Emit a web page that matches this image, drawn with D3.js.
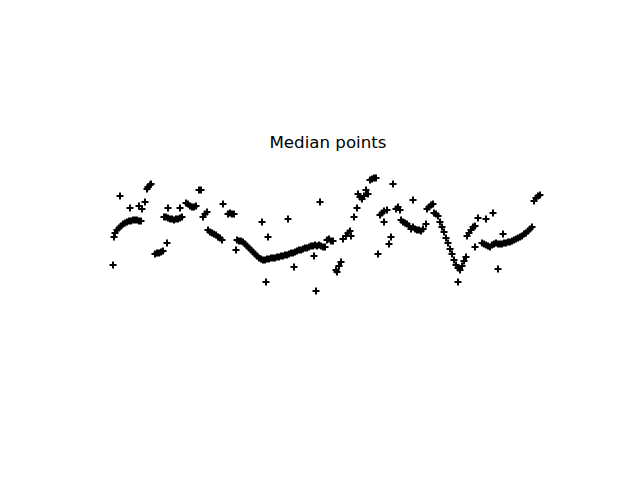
<!DOCTYPE html>
<html>
<head>
<meta charset="utf-8">
<script src="https://cdn.jsdelivr.net/npm/d3@7"></script>
<style>
  body { margin: 0; background: #fff; }
</style>
</head>
<body>
<div id="chart"></div>
<script>
// median points (x, y pairs)
const titleText = "Median points";

const xs = [
  13,
  14, 15, 17, 19, 21, 23, 25, 27, 29, 31, 33, 35, 37, 39, 41,
  20, 30, 39, 42, 45,
  47, 48, 50, 51,
  55, 57, 59, 61, 63, 67,
  64, 66, 68, 70, 72, 74, 76, 78, 80, 82,
  68, 80,
  86, 88, 90, 92, 94, 96,
  99, 101,
  103, 105, 107,
  108, 110, 112, 114, 116, 118, 120, 122,
  123,
  128, 130, 132, 134,
  136,
  137, 139, 141, 143, 145, 147, 149, 151, 153, 155, 157, 159, 161, 163, 165,
  162, 168, 166, 188,
  167, 169, 171, 173, 175, 177, 179, 181, 183, 185, 187, 189, 191, 193, 195, 197, 199, 201, 203, 205, 207, 209, 211, 213, 215,
  194, 214, 216, 220,
  217, 219, 221, 223,
  225, 227, 229, 231, 233,
  236, 237, 239, 241,
  243, 246, 248, 250, 251,
  254, 257,
  258, 260, 262, 264, 266, 268,
  270, 272, 274, 276,
  293,
  280, 282, 284, 287, 284,
  291, 289, 278, 296,
  298, 300,
  313,
  301, 303, 305, 307, 309, 311, 313, 315, 317, 319, 321, 323, 326,
  327, 329, 331, 333,
  334, 336, 338,
  340, 342, 344, 346, 348, 350, 352, 354, 356, 358, 360, 362,
  364, 366, 358,
  367, 369, 371, 373, 375,
  378, 386, 393, 375,
  382, 384, 386, 388, 390, 392,
  394, 396, 398, 400, 402, 404, 406, 408, 410, 412, 414, 416, 418,
  403, 398,
  420, 422, 424, 426, 428, 430, 432,
  434, 436, 438, 440
];

const ys = [
  35,
  63, 67, 70, 72, 74, 76, 77, 78, 79, 79, 80, 80, 80, 79, 79,
  104, 92, 94, 91, 98,
  111, 113, 115, 116,
  46, 47, 47, 48, 49, 57,
  83, 83, 82, 81, 81, 80, 81, 81, 82, 83,
  92, 92,
  97, 96, 94, 93, 93, 94,
  110, 110,
  83, 86, 88,
  70, 68, 67, 66, 65, 63, 62, 60,
  96,
  86, 87, 86, 86,
  50,
  60, 59, 59, 58, 56, 54, 52, 50, 48, 46, 44, 42, 41, 40, 40,
  78, 63, 18, 81,
  41, 41, 42, 42, 42, 43, 43, 44, 44, 45, 45, 46, 47, 47, 48, 49, 50, 50, 51, 52, 52, 53, 54, 54, 55,
  33, 44, 9, 98,
  54, 55, 54, 53,
  53, 60, 61, 59, 59,
  30, 28, 34, 38,
  61, 64, 67, 69, 64,
  83, 92,
  106, 103, 101, 104, 110, 106,
  120, 121, 122, 122,
  116,
  85, 87, 89, 90, 78,
  63, 56, 46, 91,
  93, 90,
  100,
  80, 78, 77, 76, 74, 71, 73, 71, 70, 70, 69, 71, 76,
  91, 93, 95, 96,
  87, 86, 84,
  78, 73, 68, 62, 57, 51, 46, 40, 35, 32, 30, 34,
  39, 43, 18,
  64, 67, 70, 73, 74,
  82, 81, 87, 53,
  57, 56, 55, 54, 53, 55,
  56, 57, 56, 56, 56, 57, 57, 58, 58, 59, 60, 61, 62,
  66, 31,
  63, 64, 66, 67, 69, 71, 73,
  99, 102, 104, 105
];

const width = 640, height = 480;
const margin = { top: 157, right: 64, bottom: 152, left: 80 };

const svg = d3.select("#chart")
  .append("svg")
  .attr("width", width)
  .attr("height", height);

const x = d3.scaleLinear()
  .domain([-20, 476])
  .range([margin.left, width - margin.right]);

const y = d3.scaleLinear()
  .domain([-28, 143])
  .range([height - margin.bottom, margin.top]);

// "+" marker, axis is switched off
const arm = 3.5;
const plus = `M${-arm},0H${arm}M0,${-arm}V${arm}`;

svg.append("g")
  .selectAll("path")
  .data(xs.map((d, i) => [d, ys[i]]))
  .join("path")
  .attr("transform", d => `translate(${x(d[0])},${y(d[1])})`)
  .attr("d", plus)
  .attr("fill", "none")
  .attr("stroke", "#000")
  .attr("stroke-width", 2);

svg.append("text")
  .attr("x", (margin.left + width - margin.right) / 2)
  .attr("y", margin.top - 9)
  .attr("text-anchor", "middle")
  .style("font-family", "DejaVu Sans, sans-serif")
  .style("font-size", "16.67px")
  .text(titleText);
</script>
</body>
</html>
